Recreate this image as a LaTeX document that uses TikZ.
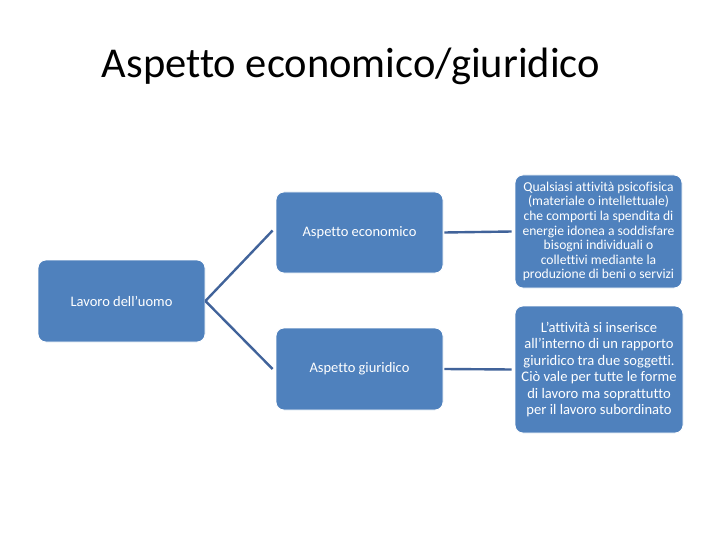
\documentclass[tikz,border=0pt]{standalone}
\usepackage{fontspec}
\setmainfont[RawFeature=-liga]{Carlito}
\definecolor{boxblue}{HTML}{4F81BD}
\definecolor{linkblue}{HTML}{41639A}
\begin{document}
\begin{tikzpicture}[x=1pt,y=-1pt,
  box/.style={draw=white,line width=0.8pt,fill=boxblue,rounded corners=8pt,text=white,align=center,inner sep=2pt},
  link/.style={draw=linkblue,line width=2.4pt}]
\useasboundingbox (0,0) rectangle (720,540);
\node[font=\fontsize{42.5}{50}\selectfont] (title) at (351,66) {Aspetto economico/giuridico};
\node[box,minimum width=167pt,minimum height=82pt,font=\fontsize{14.5}{17}\selectfont] (lav) at (121.5,301) {Lavoro dell’uomo};
\node[box,minimum width=167pt,minimum height=81pt,font=\fontsize{14.5}{17}\selectfont] (eco) at (359.5,232.5) {Aspetto economico};
\node[box,minimum width=167pt,minimum height=82pt,font=\fontsize{14.5}{17}\selectfont] (giu) at (359.5,369) {Aspetto giuridico};
\node[box,minimum width=167pt,minimum height=113pt,font=\fontsize{13.6}{14.6}\selectfont] (d1) at (598.5,231.5) {Qualsiasi attività psicofisica\\(materiale o intellettuale)\\che comporti la spendita di\\energie idonea a soddisfare\\bisogni individuali o\\collettivi mediante la\\produzione di beni o servizi};
\node[box,minimum width=168pt,minimum height=127pt,font=\fontsize{14.6}{16.4}\selectfont] (d2) at (599,369.5) {L’attività si inserisce\\all’interno di un rapporto\\giuridico tra due soggetti.\\Ciò vale per tutte le forme\\di lavoro ma soprattutto\\per il lavoro subordinato};
\draw[link] (lav.east) -- ([xshift=-3pt,yshift=2pt]eco.west);
\draw[link] (lav.east) -- ([xshift=-3pt]giu.west);
\draw[link] ([xshift=1pt]eco.east) -- ([xshift=-3pt]d1.west);
\draw[link] ([xshift=1pt]giu.east) -- ([xshift=-3pt]d2.west);
\end{tikzpicture}
\end{document}
